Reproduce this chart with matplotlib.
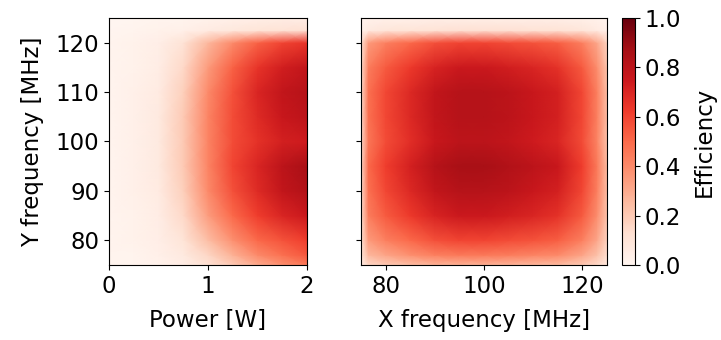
import matplotlib
matplotlib.use("Agg")
import matplotlib.pyplot as plt
import numpy as np

plt.rcParams["font.size"] = 16.5

# sweep over drive power (left panel): nodes on power and Y frequency
power_w = [0.0, 0.25, 0.5, 0.75, 1.0, 1.25, 1.5, 1.75, 2.0]
y_freq_mhz = [75, 77, 80, 85, 90, 95, 100, 105, 110, 115, 120, 122.5, 125]

# efficiency vs Y frequency, one list per power node
eff_power = [
    [0.01, 0.01, 0.01, 0.01, 0.01, 0.01, 0.01, 0.01, 0.01, 0.01, 0.01, 0.0, 0.0],
    [0.01, 0.01, 0.02, 0.02, 0.03, 0.03, 0.03, 0.03, 0.03, 0.02, 0.02, 0.01, 0.0],
    [0.02, 0.03, 0.04, 0.05, 0.06, 0.07, 0.07, 0.07, 0.06, 0.05, 0.04, 0.02, 0.01],
    [0.05, 0.07, 0.10, 0.15, 0.18, 0.20, 0.20, 0.20, 0.18, 0.15, 0.11, 0.03, 0.01],
    [0.12, 0.16, 0.24, 0.34, 0.40, 0.42, 0.42, 0.42, 0.40, 0.35, 0.26, 0.06, 0.02],
    [0.20, 0.28, 0.38, 0.50, 0.57, 0.60, 0.58, 0.58, 0.57, 0.52, 0.40, 0.08, 0.03],
    [0.30, 0.40, 0.50, 0.62, 0.68, 0.70, 0.66, 0.68, 0.70, 0.65, 0.52, 0.10, 0.04],
    [0.38, 0.48, 0.56, 0.70, 0.78, 0.80, 0.72, 0.76, 0.78, 0.73, 0.60, 0.11, 0.05],
    [0.45, 0.55, 0.62, 0.75, 0.83, 0.86, 0.74, 0.80, 0.82, 0.78, 0.65, 0.12, 0.05],
]

# 2D frequency map (right panel): rows follow y_freq_mhz, columns x_freq_mhz
x_freq_mhz = [75, 76.5, 80, 85, 90, 95, 100, 105, 110, 115, 120, 123, 125]
eff_xy = [
    [0.05, 0.16, 0.20, 0.24, 0.27, 0.28, 0.28, 0.27, 0.26, 0.25, 0.20, 0.15, 0.08],
    [0.08, 0.26, 0.32, 0.38, 0.43, 0.45, 0.45, 0.44, 0.42, 0.40, 0.32, 0.23, 0.13],
    [0.10, 0.35, 0.43, 0.50, 0.57, 0.60, 0.60, 0.58, 0.56, 0.53, 0.43, 0.31, 0.17],
    [0.13, 0.44, 0.54, 0.63, 0.71, 0.75, 0.75, 0.73, 0.70, 0.66, 0.54, 0.39, 0.22],
    [0.14, 0.48, 0.59, 0.69, 0.78, 0.82, 0.82, 0.80, 0.76, 0.72, 0.59, 0.43, 0.24],
    [0.15, 0.50, 0.62, 0.72, 0.82, 0.86, 0.86, 0.83, 0.80, 0.76, 0.62, 0.45, 0.25],
    [0.14, 0.46, 0.58, 0.67, 0.76, 0.80, 0.80, 0.78, 0.74, 0.70, 0.58, 0.42, 0.23],
    [0.14, 0.48, 0.59, 0.69, 0.78, 0.82, 0.82, 0.80, 0.76, 0.72, 0.59, 0.43, 0.24],
    [0.14, 0.48, 0.59, 0.69, 0.78, 0.82, 0.82, 0.80, 0.76, 0.72, 0.59, 0.43, 0.24],
    [0.13, 0.44, 0.54, 0.63, 0.71, 0.75, 0.75, 0.73, 0.70, 0.66, 0.54, 0.39, 0.22],
    [0.10, 0.35, 0.43, 0.50, 0.57, 0.60, 0.60, 0.58, 0.56, 0.53, 0.43, 0.31, 0.17],
    [0.02, 0.07, 0.09, 0.10, 0.11, 0.12, 0.12, 0.12, 0.11, 0.11, 0.09, 0.06, 0.03],
    [0.01, 0.02, 0.03, 0.03, 0.04, 0.04, 0.04, 0.04, 0.04, 0.04, 0.03, 0.02, 0.01],
]

fig = plt.figure(figsize=(7.21, 3.4), dpi=100)
ax_p = fig.add_axes([0.1512, 0.2206, 0.2746, 0.7265])
ax_f = fig.add_axes([0.5007, 0.2206, 0.3412, 0.7265])
cax = fig.add_axes([0.8627, 0.2206, 0.018, 0.7265])

mesh_kw = dict(cmap="Reds", vmin=0, vmax=1, shading="gouraud")
ax_p.pcolormesh(power_w, y_freq_mhz, np.array(eff_power).T, **mesh_kw)
im = ax_f.pcolormesh(x_freq_mhz, y_freq_mhz, np.array(eff_xy), **mesh_kw)

ax_p.set_xlim(0, 2)
ax_p.set_ylim(75, 125)
ax_p.set_xticks([0, 1, 2])
ax_p.set_yticks([80, 90, 100, 110, 120])
ax_p.set_xlabel("Power [W]", labelpad=8)
ax_p.set_ylabel("Y frequency [MHz]", labelpad=8)

ax_f.set_xlim(75, 125)
ax_f.set_ylim(75, 125)
ax_f.set_xticks([80, 100, 120])
ax_f.set_yticks([80, 90, 100, 110, 120])
ax_f.set_yticklabels([])
ax_f.set_xlabel("X frequency [MHz]", labelpad=8)

cb = fig.colorbar(im, cax=cax)
cb.set_ticks([0, 0.2, 0.4, 0.6, 0.8, 1.0])
cb.set_label("Efficiency", labelpad=8)

fig.savefig("out.png", dpi=100)
